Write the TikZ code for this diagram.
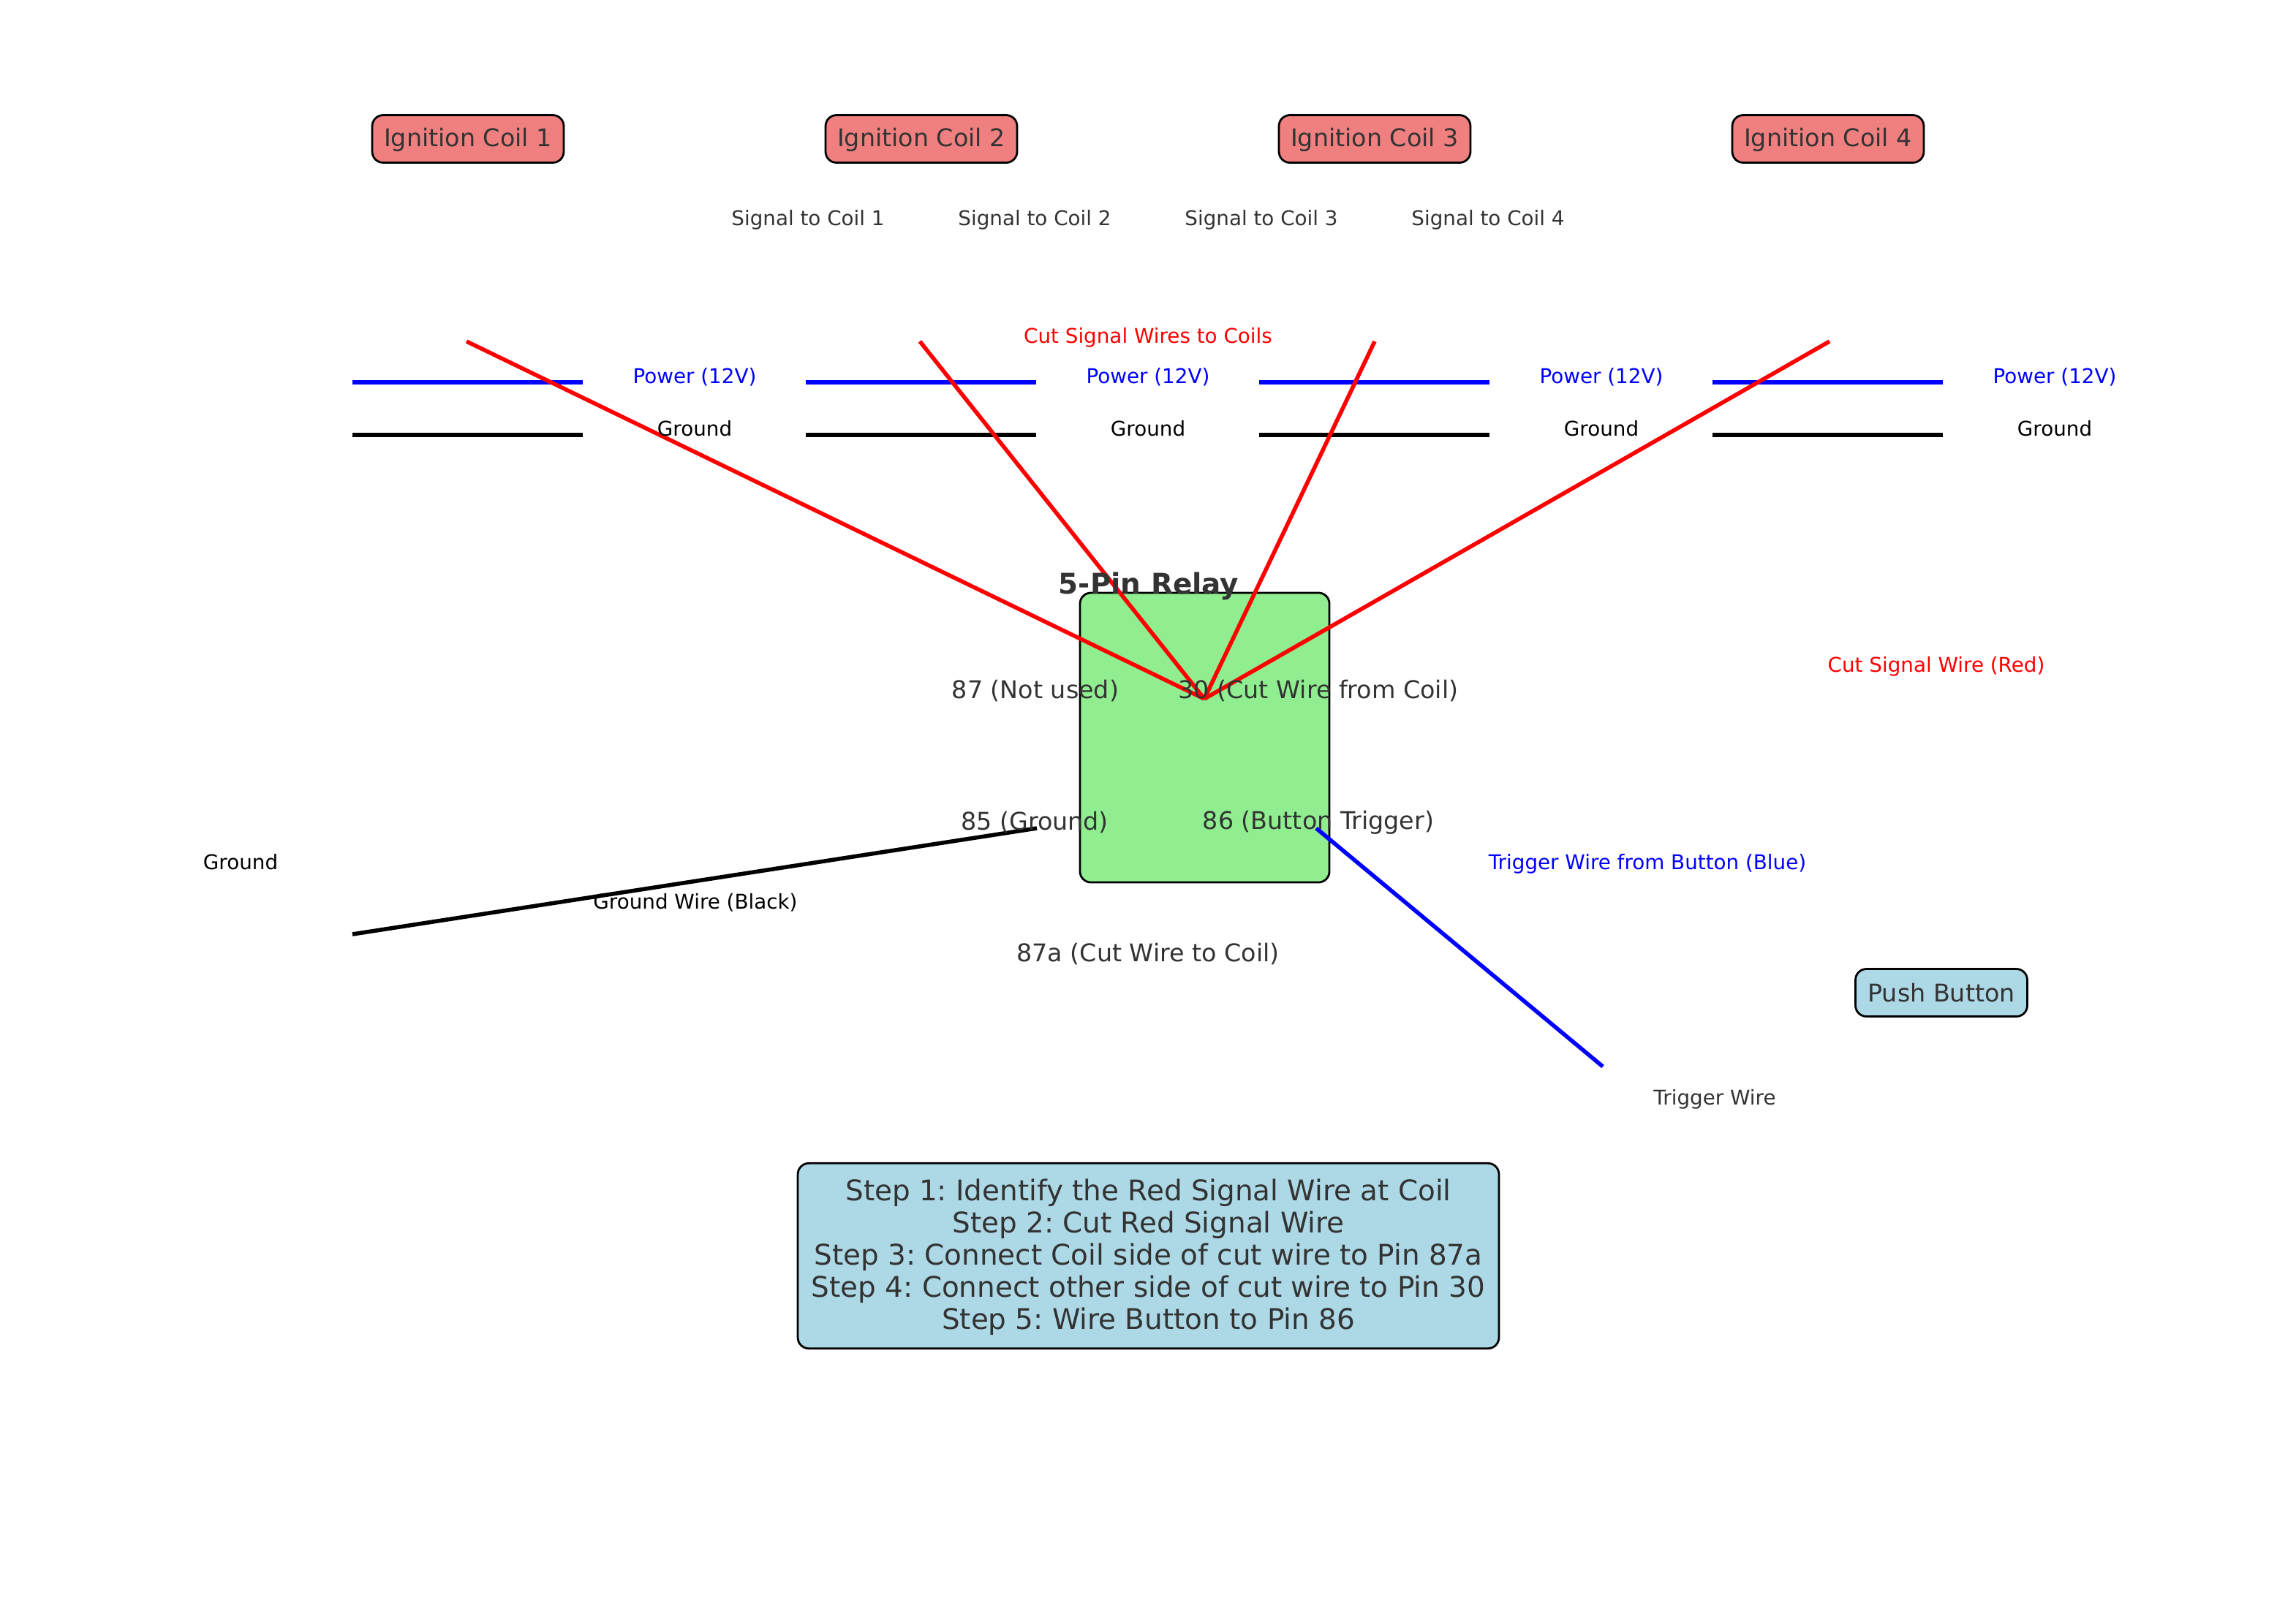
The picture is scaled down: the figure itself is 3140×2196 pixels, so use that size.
\documentclass[tikz,border=0pt]{standalone}
\usepackage{fontspec}
\setmainfont{DejaVu Sans}
\frenchspacing
\definecolor{ink}{HTML}{333333}
\definecolor{coilfill}{HTML}{F08080}
\definecolor{relayfill}{HTML}{90EE90}
\definecolor{panelfill}{HTML}{ADD8E6}
\definecolor{pure red}{HTML}{FF0000}
\definecolor{pure blue}{HTML}{0000FF}
\newcommand{\lowered}[2]{\raisebox{-#1}[\height][\depth]{#2}}
\tikzset{
  box/.style={draw=black,line width=1pt,rounded corners=5.4pt,inner sep=0pt,text=ink,font=\fontsize{12}{14}\selectfont},
  coilbox/.style={box,fill=coilfill,minimum width=94.3pt,minimum height=23.4pt},
  wire/.style={line width=2pt},
  redwire/.style={wire,draw=pure red},
  bluewire/.style={wire,draw=pure blue},
  blackwire/.style={wire,draw=black},
  small/.style={font=\fontsize{10}{12}\selectfont,inner sep=0pt},
  pinlabel/.style={font=\fontsize{12}{14}\selectfont,text=ink,inner sep=0pt},
}
\begin{document}
\begin{tikzpicture}[x=0.36pt,y=-0.36pt]
\path[use as bounding box,fill=white] (0,0) rectangle (3140,2196);
% boxes
\node[box,fill=relayfill,minimum width=122.8pt,minimum height=142.6pt] (relay) at (1647.5,1009) {};
\node[coilbox] (coilA) at (640,190) {\lowered{0.6pt}{Ignition Coil 1}};
\node[coilbox] (coilB) at (1260,190) {\lowered{0.6pt}{Ignition Coil 2}};
\node[coilbox] (coilC) at (1880,190) {\lowered{0.6pt}{Ignition Coil 3}};
\node[coilbox] (coilD) at (2500,190) {\lowered{0.6pt}{Ignition Coil 4}};
\node[box,fill=panelfill,minimum width=84.6pt,minimum height=23.4pt] (button) at (2655,1358) {Push Button};
\node[box,fill=panelfill,minimum width=345.2pt,minimum height=91.2pt,font=\fontsize{14}{15.84}\selectfont] (steps) at (1570.5,1718) {\lowered{1.2pt}{\begin{tabular}{@{}c@{}}Step 1: Identify the Red Signal Wire at Coil\\Step 2: Cut Red Signal Wire\\Step 3: Connect Coil side of cut wire to Pin 87a\\Step 4: Connect other side of cut wire to Pin 30\\Step 5: Wire Button to Pin 86\end{tabular}}};
% wire ends
\coordinate (hub) at (1647,956);
\foreach \n/\x in {A/0,B/620,C/1240,D/1860}{
  \coordinate (pl\n) at ({482+\x},523);
  \coordinate (pr\n) at ({797+\x},523);
  \coordinate (gl\n) at ({482+\x},595);
  \coordinate (gr\n) at ({797+\x},595);
  \draw[bluewire] (pl\n) -- (pr\n);
  \draw[blackwire] (gl\n) -- (gr\n);
}
\foreach \n/\x in {A/638,B/1258,C/1880,D/2502}{
  \coordinate (top\n) at (\x,467);
  \draw[redwire] (top\n) -- (hub);
}
\coordinate (gndL) at (482,1278);
\coordinate (gndR) at (1418,1133);
\coordinate (trigA) at (1800,1133);
\coordinate (trigB) at (2192,1459);
\draw[blackwire] (gndL) -- (gndR);
\draw[bluewire] (trigA) -- (trigB);
% labels
\node[small,text=ink] (sA) at (1105,301) {Signal to Coil 1};
\node[small,text=ink] (sB) at (1415,301) {Signal to Coil 2};
\node[small,text=ink] (sC) at (1725,301) {Signal to Coil 3};
\node[small,text=ink] (sD) at (2035,301) {Signal to Coil 4};
\node[small,text=pure red] (cutAll) at (1570,462) {Cut Signal Wires to Coils};
\foreach \n/\x in {A/0,B/620,C/1240,D/1860}{
  \node[small,text=pure blue] (power\n) at ({950+\x},516) {Power (12V)};
  \node[small,text=black] (ground\n) at ({950+\x},586) {Ground};
}
\node[font=\fontsize{14}{16}\selectfont\bfseries,text=ink,inner sep=0pt] (title) at (1571,802) {5-Pin Relay};
\node[pinlabel] (p87) at (1416,945) {87 (Not used)};
\node[pinlabel] (p30) at (1803,945) {30 (Cut Wire from Coil)};
\node[pinlabel] (p85) at (1415,1125) {85 (Ground)};
\node[pinlabel] (p86) at (1803,1125) {86 (Button Trigger)};
\node[pinlabel] (p87a) at (1570,1305) {87a (Cut Wire to Coil)};
\node[small,text=pure red] (cutOne) at (2648,912) {Cut Signal Wire (Red)};
\node[small,text=black] (gndText) at (329,1179) {Ground};
\node[small,text=black] (gndWire) at (951,1235) {Ground Wire (Black)};
\node[small,text=pure blue] (trigText) at (2253,1182) {Trigger Wire from Button (Blue)};
\node[small,text=ink] (trigWire) at (2345,1504) {Trigger Wire};
\end{tikzpicture}
\end{document}
